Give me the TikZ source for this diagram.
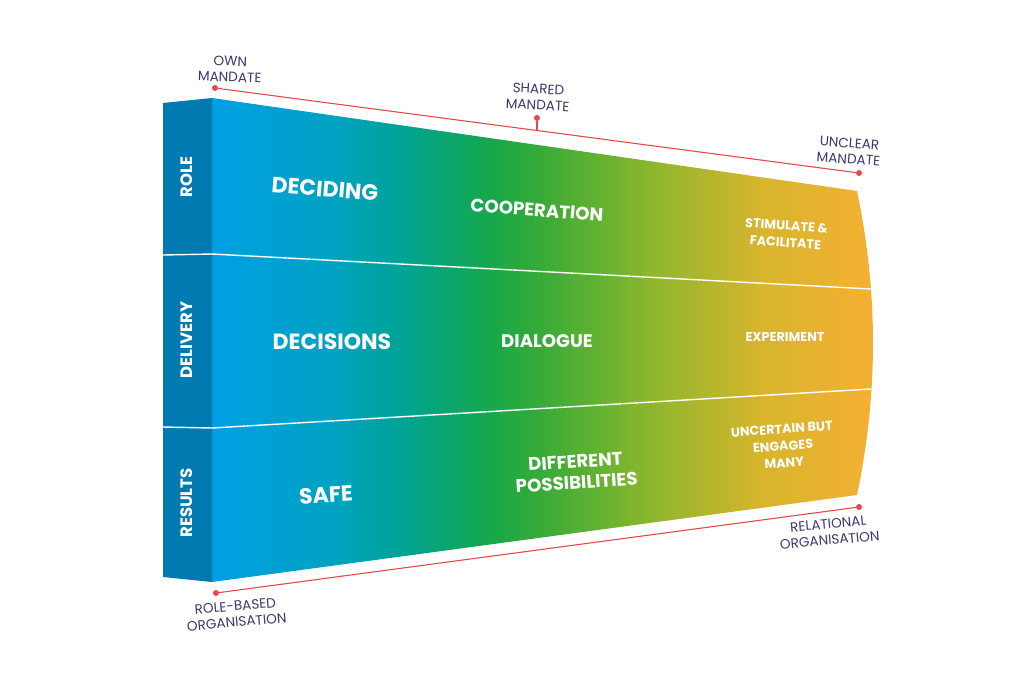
\documentclass[tikz,border=0pt]{standalone}
\usepackage{fontspec}
\setmainfont{Poppins}
\definecolor{c1}{RGB}{0,159,227}
\definecolor{c2}{RGB}{0,163,195}
\definecolor{c3}{RGB}{0,163,150}
\definecolor{c4}{RGB}{22,168,75}
\definecolor{c5}{RGB}{55,171,55}
\definecolor{c6}{RGB}{140,183,45}
\definecolor{c7}{RGB}{215,181,45}
\definecolor{c8}{RGB}{245,176,50}
\definecolor{barblue}{RGB}{0,122,176}
\definecolor{labelink}{RGB}{60,56,112}
\definecolor{redline}{RGB}{229,73,77}
\pgfdeclarehorizontalshading{spectrum}{100bp}{color(0bp)=(c1); color(25bp)=(c1); color(33.9bp)=(c2); color(39.2bp)=(c3); color(46bp)=(c4); color(49.8bp)=(c5); color(58.1bp)=(c6); color(66.5bp)=(c7); color(75bp)=(c8); color(100bp)=(c8)}
\tikzset{
  divider/.style={draw=white, line width=1.4pt},
  dotnode/.style={circle, fill=redline, inner sep=0pt, minimum size=6pt},
  redconn/.style={draw=redline, line width=1.1pt},
  sidelabel/.style={text=labelink, align=center, inner sep=0pt, font=\fontsize{13.6}{16}\selectfont},
  bigtext/.style={text=white, align=center, inner sep=0pt, font=\fontsize{22}{26}\selectfont\bfseries},
  midtext/.style={text=white, align=center, inner sep=0pt, font=\fontsize{18.2}{21}\selectfont\bfseries},
  smalltext/.style={text=white, align=center, inner sep=0pt, font=\fontsize{12.8}{17}\selectfont\bfseries},
  bartext/.style={text=white, inner sep=0pt, rotate=90, font=\fontsize{16.5}{20}\selectfont\bfseries}
}
\begin{document}
\begin{tikzpicture}[x=1pt,y=-1pt]
\useasboundingbox (0,0) rectangle (1024,681);
% main gradient body
\begin{scope}
\clip (212,98) -- (857,191) .. controls (878.3,292.3) and (878.3,393.7) .. (857,495) -- (212,582) -- cycle;
\shade[shading=spectrum] (212,90) rectangle (874,590);
\end{scope}
% left bar
\fill[barblue] (163,103) -- (212,98) -- (212,582) -- (163,577) -- cycle;
% dividers
\draw[divider] (163,255) -- (212,254) -- (871,289);
\draw[divider] (163,427) -- (212,428) -- (871,389);
% bar labels
\node[bartext] (role) at (187,177) {ROLE};
\node[bartext] (delivery) at (187,340) {DELIVERY};
\node[bartext] (results) at (187,503) {RESULTS};
% row texts
\node[bigtext, rotate=-4.5] (deciding) at (325,189) {DECIDING};
\node[midtext, rotate=-4.3] (coop) at (537,210) {COOPERATION};
\node[smalltext, rotate=-4] (stim) at (786,234) {STIMULATE \&\\FACILITATE};
\node[bigtext] (decisions) at (332,342) {DECISIONS};
\node[midtext] (dialogue) at (547,341) {DIALOGUE};
\node[smalltext] (experiment) at (785,337) {EXPERIMENT};
\node[bigtext, rotate=3.5] (safe) at (326,495) {SAFE};
\node[midtext, rotate=3.7] (diff) at (576,472) {DIFFERENT\\POSSIBILITIES};
\node[smalltext, rotate=4] (uncertain) at (783,446) {UNCERTAIN BUT\\ENGAGES\\MANY};
% top mandate line
\node[dotnode] (own) at (215,88) {};
\node[dotnode] (unclear) at (859,173) {};
\node[dotnode] (shared) at (537,118) {};
\coordinate (sharedfoot) at (537,130.5);
\draw[redconn] (own) -- (unclear);
\draw[redconn] (shared) -- (sharedfoot);
\node[sidelabel, rotate=-2] (ownlbl) at (230,69) {OWN\\MANDATE};
\node[sidelabel, rotate=-3] (sharedlbl) at (538,97) {SHARED\\MANDATE};
\node[sidelabel, rotate=-4] (unclearlbl) at (849,151) {UNCLEAR\\MANDATE};
% bottom organisation line
\node[dotnode] (rolebased) at (216,593) {};
\node[dotnode] (relational) at (859,507) {};
\draw[redconn] (rolebased) -- (relational);
\node[sidelabel, rotate=5] (rolebasedlbl) at (236,614) {ROLE-BASED\\ORGANISATION};
\node[sidelabel, rotate=5] (relationallbl) at (829,532) {RELATIONAL\\ORGANISATION};
\end{tikzpicture}
\end{document}
